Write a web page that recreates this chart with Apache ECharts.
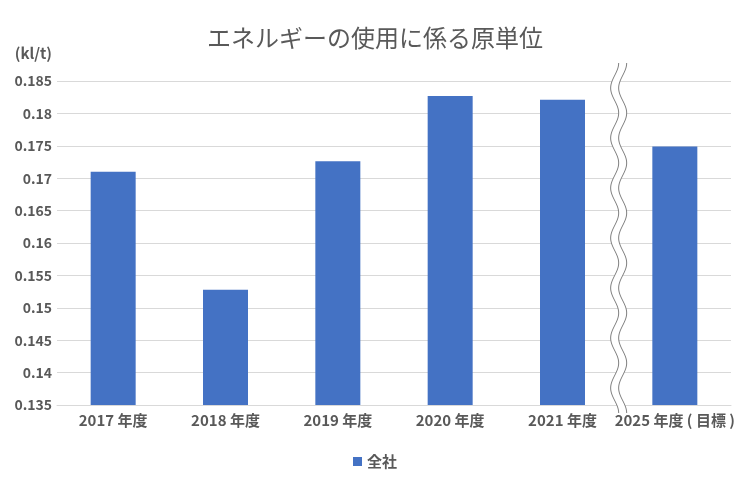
<!DOCTYPE html>
<html><head><meta charset="utf-8">
<script src="https://cdn.jsdelivr.net/npm/echarts@6/dist/echarts.min.js"></script>
<style>html,body{margin:0;padding:0;background:#fff}#c{width:750px;height:480px}</style>
</head><body><div id="c"></div>
<script>
const categories = ['2017 年度','2018 年度','2019 年度','2020 年度','2021 年度','2025 年度 ( 目標 )'];
const values = [0.1710, 0.1528, 0.1726, 0.1827, 0.1821, 0.1749];
const seriesName = '全社';
const titleText = 'エネルギーの使用に係る原単位';
const unitText = '(kl/t)';

const FONT = '"Noto Sans CJK JP", "Noto Sans", sans-serif';
const TXT = '#595959';
const chart = echarts.init(document.getElementById('c'), null, {renderer:'canvas'});
chart.setOption({
  animation:false,
  title:{text:titleText, left:'center', top:21, textStyle:{fontFamily:FONT, fontSize:24, fontWeight:'normal', color:TXT}},
  legend:{bottom:6, left:'center', itemWidth:9, itemHeight:9, icon:'rect', itemGap:10,
    textStyle:{fontFamily:FONT, fontSize:15, fontWeight:'bold', color:TXT}},
  grid:{left:57, right:19, top:81, bottom:75},
  xAxis:{type:'category', data:categories,
    axisLine:{lineStyle:{color:'#d9d9d9'}}, axisTick:{show:false},
    axisLabel:{fontFamily:FONT, fontSize:15, fontWeight:'bold', color:TXT, margin:8, interval:0}},
  yAxis:{type:'value', min:0.135, max:0.185, interval:0.005,
    name:unitText, nameLocation:'end', nameGap:20,
    nameTextStyle:{fontFamily:FONT, fontSize:15, fontWeight:'bold', color:TXT, align:'right', padding:[0,5,0,0]},
    axisLine:{show:false}, axisTick:{show:false},
    splitLine:{lineStyle:{color:'#d9d9d9'}},
    axisLabel:{fontFamily:FONT, fontSize:14, fontWeight:'bold', color:TXT, margin:5,
      formatter:v=>String(parseFloat(v.toFixed(3)))}},
  series:[{name:seriesName, type:'bar', data:values, barWidth:45,
    itemStyle:{color:'#4472c4'}}]
});

// wavy axis-break decoration between the last two categories
function drawBreak(){
  const x4 = chart.convertToPixel({xAxisIndex:0}, 4);
  const x5 = chart.convertToPixel({xAxisIndex:0}, 5);
  const xm = (x4 + x5) / 2;
  const yTop = chart.convertToPixel({yAxisIndex:0}, 0.185) - 18;
  const yBot = chart.convertToPixel({yAxisIndex:0}, 0.135) + 8;
  const amp = 4, period = 50, off = 4;
  const left = [], right = [];
  for (let y = yTop; y <= yBot; y += 1) {
    const dx = amp * Math.sin((y - yTop) / period * 2 * Math.PI + Math.PI/2);
    left.push([xm - off + dx, y]);
    right.push([xm + off + dx, y]);
  }
  const poly = left.concat(right.slice().reverse());
  chart.setOption({graphic:[
    {type:'polygon', shape:{points:poly}, style:{fill:'#fff'}, z:100},
    {type:'polyline', shape:{points:left}, style:{stroke:'#7f7f7f', lineWidth:1, fill:null}, z:101},
    {type:'polyline', shape:{points:right}, style:{stroke:'#7f7f7f', lineWidth:1, fill:null}, z:101}
  ]});
}
drawBreak();
</script></body></html>
